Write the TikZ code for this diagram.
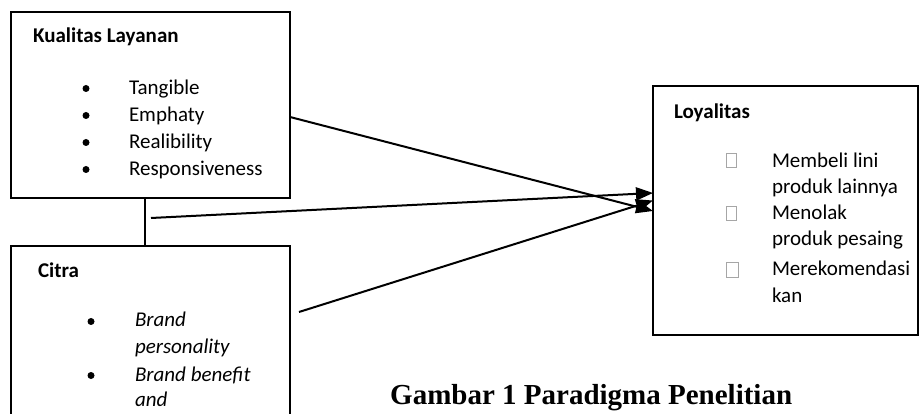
\documentclass[tikz,border=0pt]{standalone}
\usepackage{fontspec}
\setmainfont{Carlito}
\newfontfamily\timesfont{Liberation Serif}
\usetikzlibrary{arrows.meta}
\begin{document}
\begin{tikzpicture}[x=1pt,y=-1pt,
  box/.style={draw, line width=2pt, rectangle, inner sep=0pt, outer sep=0pt, anchor=north west},
  txt/.style={anchor=base west, inner sep=0pt, outer sep=0pt, font=\fontsize{21}{25}\selectfont},
  hd/.style={txt, font=\fontsize{21}{25}\selectfont\bfseries},
  it/.style={txt, font=\fontsize{21}{25}\selectfont\itshape},
  bul/.style={circle, fill=black, inner sep=0pt, minimum size=7pt},
  tofu/.style={draw=black!35, line width=0.7pt, rectangle, inner sep=0pt, minimum width=10pt, minimum height=14pt},
  conn/.style={line width=2pt},
  arr/.style={line width=2pt, -{Triangle[length=17pt,width=13pt]}}
]
\useasboundingbox (0,0) rectangle (919,414);
\clip (0,0) rectangle (919,414);

% boxes
\node[box, minimum width=279pt, minimum height=186pt] (kl) at (11,12) {};
\node[box, minimum width=279pt, minimum height=200pt] (ci) at (11,246) {};
\node[box, minimum width=264.5pt, minimum height=249pt] (loy) at (653,86) {};

% Kualitas Layanan
\node[hd] (klh) at (33,42.5) {Kualitas Layanan};
\node[bul] (kb1) at (86,88.5) {};
\node[bul] (kb2) at (86,115.5) {};
\node[bul] (kb3) at (86,142.5) {};
\node[bul] (kb4) at (86,169.5) {};
\node[txt] (kt1) at (129,94.5) {Tangible};
\node[txt] (kt2) at (129,121.5) {Emphaty};
\node[txt] (kt3) at (129,148.5) {Realibility};
\node[txt] (kt4) at (129,175.5) {Responsiveness};

% Citra
\node[hd] (cih) at (38,277.5) {Citra};
\node[bul] (cb1) at (91,321.5) {};
\node[bul] (cb2) at (91,375.5) {};
\node[it] (ct1) at (135,326.7) {Brand};
\node[it] (ct2) at (135,353.3) {personality};
\node[it] (ct3) at (135,381.7) {Brand benefit};
\node[it] (ct4) at (135,406.7) {and};

% Loyalitas
\node[hd] (loyh) at (674,118.3) {Loyalitas};
\node[tofu] (lb1) at (731.5,160) {};
\node[tofu] (lb2) at (731.5,213.5) {};
\node[tofu, minimum width=12pt, minimum height=15pt] (lb3) at (732.5,269.5) {};
\node[txt] (lt1) at (772,167.3) {Membeli lini};
\node[txt] (lt2) at (772,193.3) {produk lainnya};
\node[txt] (lt3) at (772,219.3) {Menolak};
\node[txt] (lt4) at (772,245.7) {produk pesaing};
\node[txt] (lt5) at (772,276) {Merekomendasi};
\node[txt] (lt6) at (772,302.3) {kan};

% title
\node[anchor=base west, inner sep=0pt, font=\timesfont\fontsize{29}{33}\selectfont\bfseries] (title) at (390,404) {Gambar 1 Paradigma Penelitian};

% connectors
\draw[conn] ([xshift=-5.5pt]kl.south) -- ([xshift=-5.5pt]ci.north);
\coordinate (s2) at (151,218);
\coordinate (s3) at (299,312);
\draw[arr] ([yshift=-12pt]kl.east) -- ([yshift=-0.5pt]loy.west);
\draw[arr] (s2) -- ([yshift=17.5pt]loy.west);
\draw[arr] (s3) -- ([yshift=10pt]loy.west);
\end{tikzpicture}
\end{document}
